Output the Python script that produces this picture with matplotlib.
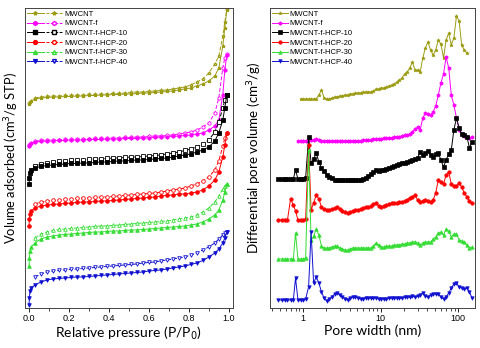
import numpy as np
import matplotlib.pyplot as plt
from matplotlib.lines import Line2D
from matplotlib.legend_handler import HandlerTuple
from matplotlib.ticker import NullFormatter

plt.rcParams['font.family'] = ['Liberation Sans', 'DejaVu Sans']
nan = np.nan

names = ['MWCNT', 'MWCNT-f', 'MWCNT-f-HCP-10', 'MWCNT-f-HCP-20', 'MWCNT-f-HCP-30', 'MWCNT-f-HCP-40']
colors = ['#9c9c14', '#ff00ff', '#000000', '#ff0000', '#33dd33', '#1010d0']
markers = ['*', 'h', 's', 'o', '^', 'v']

# ---- N2 isotherms (arbitrary offset units) ----
p_ads = [0.0005, 0.002, 0.005, 0.01, 0.03, 0.06, 0.09, 0.12, 0.15, 0.18, 0.21, 0.24, 0.27,
         0.30, 0.33, 0.36, 0.39, 0.42, 0.45, 0.48, 0.51, 0.54, 0.57, 0.60, 0.63, 0.66, 0.69,
         0.72, 0.75, 0.78, 0.81, 0.84, 0.87, 0.90, 0.93, 0.95, 0.97, 0.98, 0.99]
p_des = p_ads[4:]

ads_mwcnt = [204, 205, 206, 207, 209, 210, 210.5, 211, 211, 211.5, 211.5, 212, 212, 212.5, 212.5,
             213, 213, 213.5, 213.5, 214, 214, 214.5, 215, 215, 215.5, 216, 216.5, 217, 218, 219,
             220, 222, 224, 227, 232, 240, 262, 280, 298]
des_mwcnt = [210, 211, 211.5, 212, 212, 212.5, 212.5, 213, 213, 213.5, 213.5, 214, 214, 214.5, 214.5,
             215, 215.5, 216, 216, 216.5, 217, 217.5, 218, 219, 220, 221, 223, 226, 229, 235,
             244, 252, 272, 286, 299]
ads_f = [162, 163, 164, 164.5, 166, 166.5, 167, 167, 167.5, 167.5, 168, 168, 168, 168.5, 168.5,
         168.5, 169, 169, 169, 169.5, 169.5, 169.5, 170, 170, 170.5, 171, 171, 171.5, 172, 172.5,
         173, 174, 175, 178, 182, 188, 213, 238, 253]
des_f = [167, 167.5, 168, 168, 168, 168.5, 168.5, 169, 169, 169, 169.5, 169.5, 169.5, 170, 170,
         170.5, 170.5, 171, 171, 171.5, 172, 172, 172.5, 173, 174, 175, 176, 178, 181, 185,
         195, 210, 240, 250, 254]
ads_10 = [124, 130, 135, 138, 140, 141.5, 142.5, 143, 143.5, 144, 144.5, 144.5, 145, 145, 145.5,
          146, 146, 146.5, 147, 147, 147.5, 148, 148, 148.5, 149, 149.5, 150, 151, 152, 153,
          154, 156, 158, 161, 167, 175, 188, 200, 213]
des_10 = [142, 144, 145, 146, 146.5, 147, 147.5, 148, 148, 148.5, 149, 149, 149.5, 150, 150,
          150.5, 151, 151, 151.5, 152, 152.5, 153, 154, 155, 156, 157.5, 159, 161, 164, 168,
          176, 186, 200, 208, 213]
ads_20 = [82, 89, 94, 97, 100, 102, 103, 103.5, 104, 104.5, 105, 105.5, 106, 106, 106.5,
          107, 107, 107.5, 108, 108.5, 109, 109.5, 110, 110.5, 111, 112, 112.5, 113, 114, 114,
          115, 116, 118, 122, 128, 136, 151, 163, 175]
des_20 = [104, 106, 107, 107.5, 108, 108.5, 109, 109.5, 110, 110, 110.5, 111, 111, 111.5, 112,
          112.5, 113, 113.5, 114, 114.5, 115, 116, 117, 118, 119, 120, 122, 124, 127, 131,
          138, 147, 162, 170, 175]
ads_30 = [42, 50, 57, 61, 65, 69, 71, 72, 73, 73.5, 74, 74.5, 75, 75.5, 76,
          76, 76.5, 77, 77, 77.5, 78, 78, 78.5, 79, 79.5, 80, 80.5, 81, 81.5, 82,
          83, 84, 86, 89, 93, 98, 108, 116, 124]
des_30 = [70, 74, 76, 77.5, 78.5, 79, 79.5, 80, 80.5, 81, 81.5, 82, 82, 82.5, 83,
          83.5, 84, 84.5, 85, 85.5, 86, 86.5, 87, 88, 89, 90, 91, 93, 96, 100,
          106, 112, 119, 122, 124]
ads_40 = [3, 10, 17, 20, 23, 26, 28, 29, 29.5, 30, 30.5, 31, 31, 31.5, 32,
          32.5, 33, 33.5, 34, 34.5, 35, 35.5, 36, 37, 37.5, 38, 39, 40, 41, 42,
          43.5, 45, 47.5, 51, 55, 59, 65, 70, 76]
des_40 = [31, 34, 36, 37, 37.5, 38, 38.5, 39, 39.5, 40, 40.5, 41, 41.5, 42, 42.5,
          43, 43.5, 44, 45, 45.5, 46, 47, 48, 49, 50, 51, 53, 55, 58, 61,
          65, 69, 73, 75, 76]

ads_all = [ads_mwcnt, ads_f, ads_10, ads_20, ads_30, ads_40]
des_all = [des_mwcnt, des_f, des_10, des_20, des_30, des_40]

# ---- pore size distributions (arbitrary offset units) ----
width = [0.48, 0.53, 0.58, 0.63, 0.69, 0.75, 0.80, 0.86, 0.93, 1.00, 1.08, 1.18, 1.27, 1.37, 1.48,
         1.60, 1.73, 1.87, 2.02, 2.18, 2.36, 2.55, 2.75, 2.97, 3.21, 3.47, 3.75, 4.05, 4.37, 4.72,
         5.10, 5.51, 5.95, 6.43, 6.94, 7.50, 8.10, 8.75, 9.45, 10.2, 11.0, 11.9, 12.9, 13.9, 15.0,
         16.2, 17.5, 18.9, 20.4, 22.0, 23.8, 25.7, 27.8, 30.0, 32.4, 35.0, 37.8, 40.8, 44.1, 47.6,
         51.4, 55.5, 60.0, 64.8, 70.0, 75.6, 81.6, 88.1, 95.2, 103, 111, 120, 130, 140, 151]

psd_mwcnt = [nan, nan, nan, nan, nan, nan, nan, nan, 209, 209,
             209, 209, 209, 209, 209, 213, 218, 210, 209, 209,
             210, 211, 211, 212, 212, 213, 213, 214, 214, 215,
             215, 215, 216, 216, 216, 216, 217, 219, 219, 220,
             220, 221, 222, 223, 224, 226, 228, 230, 234, 236,
             240, 246, 238, 238, 236, 250, 260, 266, 258, 253,
             258, 268, 264, 250, 268, 275, 263, 270, 292, 287,
             263, 258, 255, nan, nan]
psd_f = [nan, nan, nan, nan, nan, nan, nan, 167, 167, 167,
         167, 168, 168, 168, 169, 168, 167, 167, 167, 167,
         167, 167, 167, 167, 167, 167, 167, 167, 167, 167,
         167, 167, 168, 168, 168, 168, 169, 169, 169, 169,
         170, 170, 170, 170, 171, 171, 171, 172, 173, 173,
         174, 176, 179, 181, 178, 190, 195, 194, 193, 196,
         202, 213, 225, 234, 251, 240, 213, 203, 190, 178,
         174, 172, 171, 170, 171]
psd_10 = [129, 129, 129, 129, 129, 129, 138, 129, 129, 129,
          130, 171, 145, 149, 155, 146, 140, 137, 133, 131,
          130, 128, 128, 128, 128, 128, 128, 128, 128, 128,
          128, 128, 129, 130, 132, 134, 136, 138, 137, 138,
          138, 139, 140, 141, 142, 143, 144, 145, 145, 146,
          147, 148, 149, 150, 156, 153, 155, 157, 153, 151,
          154, 155, 148, 141, 148, 154, 158, 178, 190, 180,
          174, 173, 171, 160, 166]
psd_20 = [88, 88, 88, 88, 109, 103, 97, 88, 88, 88,
          89, 163, 98, 105, 113, 109, 101, 99, 98, 98,
          99, 100, 101, 99, 97, 96, 95, 96, 97, 98,
          98, 99, 100, 101, 101, 102, 104, 105, 102, 101,
          102, 103, 104, 105, 105, 105, 106, 106, 107, 108,
          110, 111, 113, 108, 106, 107, 108, 107, 106, 108,
          115, 128, 126, 124, 133, 136, 124, 122, 122, 125,
          121, 115, 111, 107, 105]
psd_30 = [49, 49, 49, 49, 49, 49, 75, 49, 49, 49,
          50, 158, 68, 72, 79, 73, 62, 60, 60, 60,
          61, 62, 62, 60, 59, 58, 58, 59, 60, 60,
          60, 60, 60, 60, 60, 60, 62, 65, 63, 61,
          61, 62, 62, 62, 63, 63, 63, 64, 64, 65,
          65, 66, 66, 65, 63, 65, 66, 66, 66, 69,
          71, 75, 76, 73, 79, 77, 71, 74, 74, 68,
          67, 66, 63, 60, 61]
psd_40 = [8, 8, 8, 8, 8, 8, 30, 8, 8, 8,
          9, 21, 76, 25, 31, 25, 16, 10, 7, 9,
          11, 14, 15, 13, 11, 9, 8, 10, 11, 11,
          10, 9, 9, 10, 10, 10, 10, 10, 9, 9,
          9, 9, 10, 10, 10, 10, 10, 10, 11, 11,
          11, 12, 11, 12, 13, 15, 12, 11, 13, 14,
          14, 14, 11, 9, 11, 15, 20, 24, 25, 21,
          20, 19, 20, 16, 10]
psd_all = [psd_mwcnt, psd_f, psd_10, psd_20, psd_30, psd_40]

fig = plt.figure(figsize=(4.8, 3.48), dpi=100)
ax1 = fig.add_axes([0.052, 0.115, 0.433, 0.862])
ax2 = fig.add_axes([0.5625, 0.115, 0.4275, 0.862])

# left panel: adsorption (filled) / desorption (open, dashed)
handles = []
for name, c, m, a, d in zip(names, colors, markers, ads_all, des_all):
    ax1.plot(p_des, d, '--', color=c, marker=m, ms=2.6, mfc='white', mew=0.6, lw=0.7, dashes=(4, 2))
    ax1.plot(p_ads, a, '-', color=c, marker=m, ms=2.6, mfc=c, mew=0.6, lw=0.7)
    h1 = Line2D([], [], color=c, marker=m, ms=2.8, lw=0.7)
    h2 = Line2D([], [], color=c, marker=m, ms=2.8, mfc='white', lw=0.7, ls='--', dashes=(3, 1.5))
    handles.append((h1, h2))

ax1.set_xlim(-0.02, 1.02)
ax1.set_ylim(0, 300)
ax1.set_yticks([])
ax1.set_xticks([0.0, 0.2, 0.4, 0.6, 0.8, 1.0])
ax1.set_xticks(np.arange(0.1, 1.0, 0.2), minor=True)
ax1.tick_params(axis='x', which='major', direction='out', length=3, width=0.6, labelsize=6.5, pad=1.5)
ax1.tick_params(axis='x', which='minor', direction='out', length=1.8, width=0.5)
ax1.set_xlabel('Relative pressure (P/P$_0$)', fontsize=10, family='Lato', labelpad=1)
ax1.set_ylabel('Volume adsorbed (cm$^3$/g STP)', fontsize=9.3, family='Lato', labelpad=3)
ax1.legend(handles, names, handler_map={tuple: HandlerTuple(ndivide=None, pad=0.3)},
           loc='upper left', bbox_to_anchor=(0.0, 1.0), borderaxespad=0.1, frameon=False,
           fontsize=5.5, handlelength=4.6, handletextpad=0.3, labelspacing=0.3, numpoints=1,
           borderpad=0.2)

# right panel: pore size distribution
for name, c, m, y in zip(names, colors, markers, psd_all):
    ax2.plot(width, y, '-', color=c, marker=m, ms=2.5, mew=0.5, lw=0.7, label=name)

ax2.set_xscale('log')
ax2.set_xlim(0.375, 166)
ax2.set_ylim(0, 300)
ax2.set_yticks([])
ax2.set_xticks([1, 10, 100])
ax2.set_xticklabels(['1', '10', '100'])
ax2.xaxis.set_minor_formatter(NullFormatter())
ax2.tick_params(axis='x', which='major', direction='out', length=3, width=0.6, labelsize=6.5, pad=1.5)
ax2.tick_params(axis='x', which='minor', direction='out', length=1.8, width=0.5)
ax2.set_xlabel('Pore width (nm)', fontsize=10, family='Lato', labelpad=1)
ax2.set_ylabel('Differential pore volume (cm$^3$/g)', fontsize=9.6, family='Lato', labelpad=4)
ax2.legend(loc='upper left', bbox_to_anchor=(0.0, 1.0), borderaxespad=0.1, frameon=False,
           fontsize=5.5, handlelength=2.0, handletextpad=0.3, labelspacing=0.3, numpoints=1,
           borderpad=0.2)

for ax in (ax1, ax2):
    for s in ax.spines.values():
        s.set_linewidth(0.7)
        s.set_color('#444444')

fig.savefig('out.png', dpi=100)
